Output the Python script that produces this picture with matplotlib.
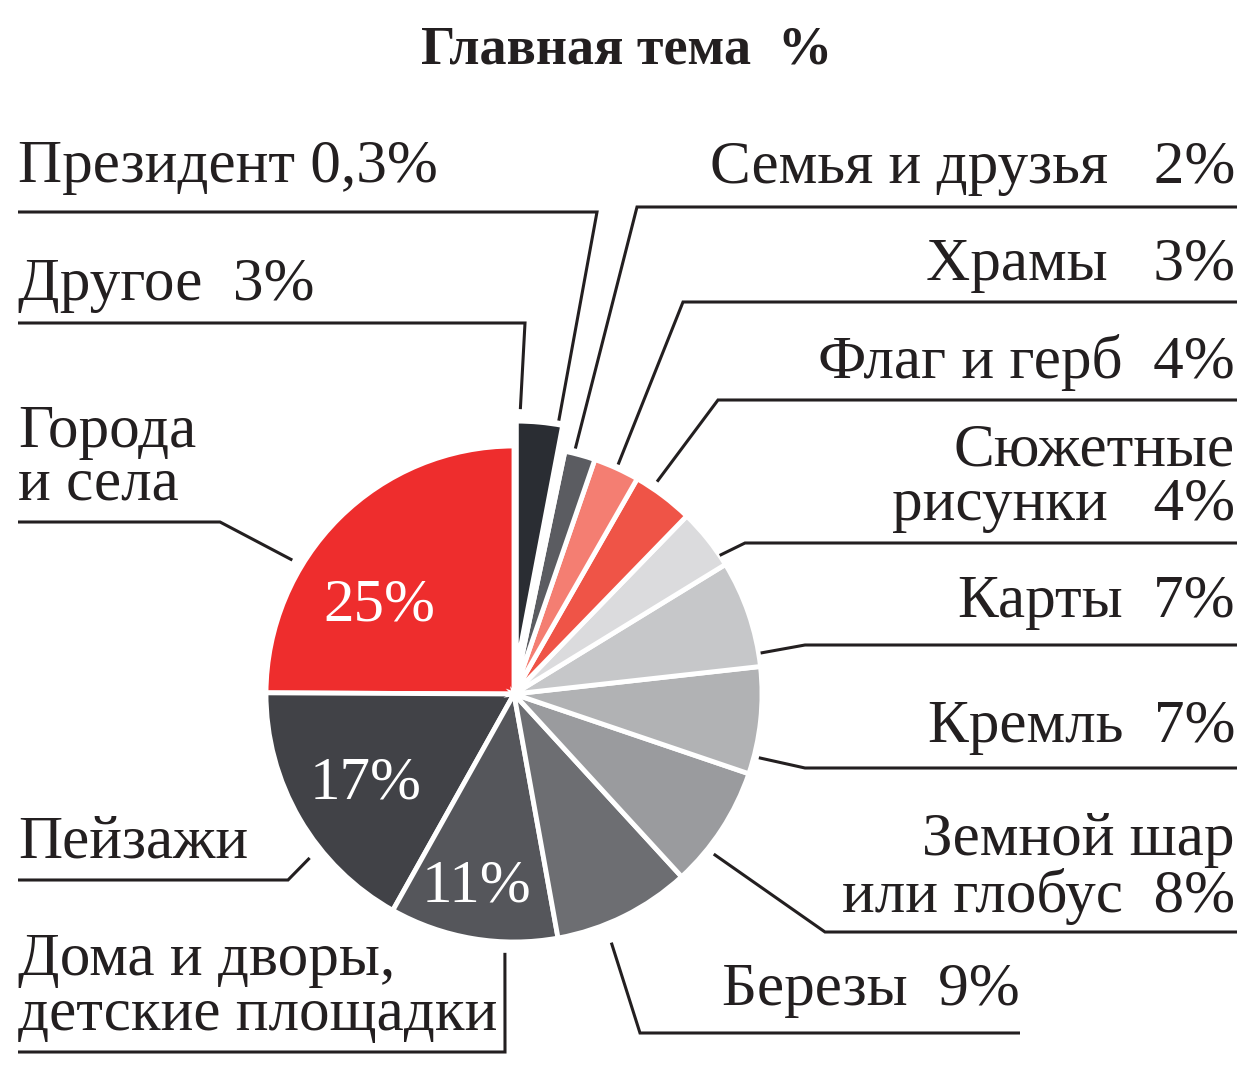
import numpy as np
import matplotlib.pyplot as plt

# -----------------------------
# DATA
# -----------------------------
topics = ["Города и села", "Пейзажи", "Дома и дворы, детские площадки", "Березы",
          "Земной шар или глобус", "Кремль", "Карты", "Сюжетные рисунки",
          "Флаг и герб", "Храмы", "Семья и друзья", "Президент", "Другое"]
shares = [25, 17, 11, 9, 8, 7, 7, 4, 4, 3, 2, 0.3, 3]
colors = ["#ee2d2d", "#414247", "#55565b", "#6d6e72", "#9a9b9e", "#b1b2b4",
          "#c6c7c9", "#dbdbdd", "#ef5447", "#f47e72", "#5b5c61", "#2a2d33", "#2a2d33"]

# label text lines as printed
name_lines = [["Города", "и села"], ["Пейзажи"], ["Дома и дворы,", "детские площадки"],
              ["Березы"], ["Земной шар", "или глобус"], ["Кремль"], ["Карты"],
              ["Сюжетные", "рисунки"], ["Флаг и герб"], ["Храмы"], ["Семья и друзья"],
              ["Президент"], ["Другое"]]
pct_sep = [None, None, None, "  ", "  ", "  ", "  ", "   ", "  ", "   ", "   ", " ", "  "]
inner = [True, True, True] + [False] * 10
exploded = [0] * 12 + [1]

TITLE = "Главная тема  %"

# -----------------------------
# LAYOUT (pixels, y down)
# -----------------------------
W, H = 1260, 1080
CENTER = (514, 694)
RADIUS = 248
EXPLODE = 25
INK = "#231f20"
FONT = "Liberation Serif"
FS = 44

# ha, text x, baselines, underline y, elbow x, far x, angle tweak, gap
LAYOUT = [
    ("left", 18, [447, 500], 522, 220, 18, 14, 11),
    ("left", 18, [858], 880, 288, 18, 8.5, 14),
    ("left", 18, [975, 1030], 1052, 505, 18, 7.5, 11),
    ("right", 1020, [1005], 1033, 640, 1020, -5, 19),
    ("right", 1235, [855, 912], 932, 825, 1237, -5.6, 8),
    ("right", 1235, [742], 768, 805, 1237, -8.4, 5),
    ("right", 1235, [617], 645, 805, 1237, -9.5, 2),
    ("right", 1235, [465, 520], 543, 745, 1237, -4.7, 0),
    ("right", 1235, [378], 400, 718, 1237, 3, 8),
    ("right", 1235, [280], 302, 683, 1237, 0, 4),
    ("right", 1235, [183], 207, 637, 1237, 1.4, 5),
    ("left", 18, [182], 212, 597, 18, 2, 29),
    ("left", 18, [300], 323, 525, 18, 4.5, 12),
]
# inner percentage: angle tweak, radial fraction
INNER_POS = {0: (12, 0.65), 1: (1, 0.70), 2: (-1.5, 0.79)}

fig = plt.figure(figsize=(W / 100, H / 100), dpi=100)
ax = fig.add_axes([0, 0, 1, 1])

wedges, _ = ax.pie(shares, colors=colors, startangle=-90, counterclock=False,
                   radius=RADIUS, center=CENTER,
                   explode=[EXPLODE * e for e in exploded],
                   wedgeprops=dict(edgecolor="white", linewidth=3.5))

ax.set_xlim(0, W)
ax.set_ylim(H, 0)
ax.set_aspect("equal")
ax.axis("off")

for i, w in enumerate(wedges):
    ha, tx, bls, uy, ex, fx, dang, gap = LAYOUT[i]
    mid = 0.5 * (w.theta1 + w.theta2)
    t = np.deg2rad(mid - dang)
    px = w.center[0] + (w.r + gap) * np.cos(t)
    py = w.center[1] + (w.r + gap) * np.sin(t)
    ax.plot([px, ex, fx], [py, uy, uy], color=INK, lw=2.2,
            solid_joinstyle="miter", solid_capstyle="butt")

    lines = list(name_lines[i])
    if not inner[i]:
        pct = f"{shares[i]:g}".replace(".", ",") + "%"
        lines[-1] = lines[-1] + pct_sep[i] + pct
    for line, b in zip(lines, bls):
        ax.text(tx, b, line, ha=ha, va="baseline", fontsize=FS,
                family=FONT, color=INK)

    if inner[i]:
        da, frac = INNER_POS[i]
        t = np.deg2rad(mid - da)
        ax.text(w.center[0] + frac * w.r * np.cos(t), w.center[1] + frac * w.r * np.sin(t),
                f"{shares[i]:g}%", ha="center", va="center", fontsize=FS,
                family=FONT, color="white")

ax.text(627, 64, TITLE, ha="center", va="baseline", fontsize=39,
        family=FONT, weight="bold", color=INK)

fig.savefig("out.png", dpi=100, facecolor="white")
